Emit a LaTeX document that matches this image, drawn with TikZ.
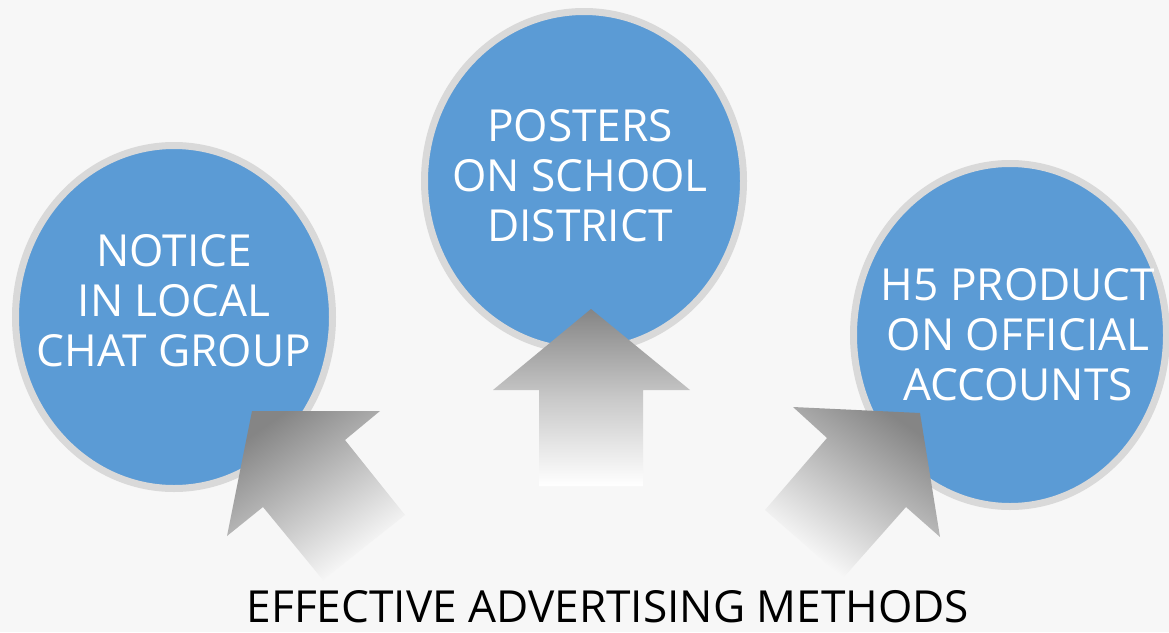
\documentclass[tikz,border=0pt]{standalone}
\usepackage{fontspec}
\setmainfont{Open Sans}
\definecolor{bg}{HTML}{F7F7F7}
\definecolor{circfill}{HTML}{5B9BD5}
\definecolor{circline}{HTML}{D9D9D9}
\definecolor{arrdark}{HTML}{858585}
\begin{document}
\begin{tikzpicture}[x=1pt,y=-1pt,
  bubbletext/.style={text=white, align=center, inner sep=0pt, font=\fontsize{44.2}{50}\selectfont},
  bubble/.style={fill=circfill, draw=circline, line width=7pt}
]
\fill[bg] (0,0) rectangle (1169,632);
\useasboundingbox (0,0) rectangle (1169,632);

% circles
\path[bubble] (174,317) ellipse [x radius=158.5, y radius=171.5];
\path[bubble] (584,181) ellipse [x radius=159.5, y radius=169.5];
\path[bubble] (1010,335) ellipse [x radius=156.5, y radius=171.5];

\node[bubbletext] (left) at (174,301) {NOTICE\\IN LOCAL\\CHAT GROUP};
\node[bubbletext] (mid) at (580,176) {POSTERS\\ON SCHOOL\\DISTRICT};
\node[bubbletext] (right) at (1018,335) {H5 PRODUCT\\ON OFFICIAL\\ACCOUNTS};

% arrows
\shade[top color=arrdark, bottom color=white, middle color=arrdark!45!white]
  (591,309) -- (690,390) -- (643,390) -- (643,486) -- (539,486) -- (539,390) -- (493,390) -- cycle;
\shade[top color=arrdark, bottom color=white, shading angle=35]
  (252,411) -- (380,411) -- (345,440) -- (405,515) -- (323,580) -- (263,507) -- (227,536) -- cycle;
\shade[top color=arrdark, bottom color=white, shading angle=-35]
  (920,413) -- (940,537) -- (906,507) -- (843,578) -- (765,510) -- (827,438) -- (793,407) -- cycle;

\node[text=black, inner sep=0pt, anchor=base, font=\fontsize{44.2}{50}\selectfont] (title) at (608,622) {EFFECTIVE ADVERTISING METHODS};
\end{tikzpicture}
\end{document}
